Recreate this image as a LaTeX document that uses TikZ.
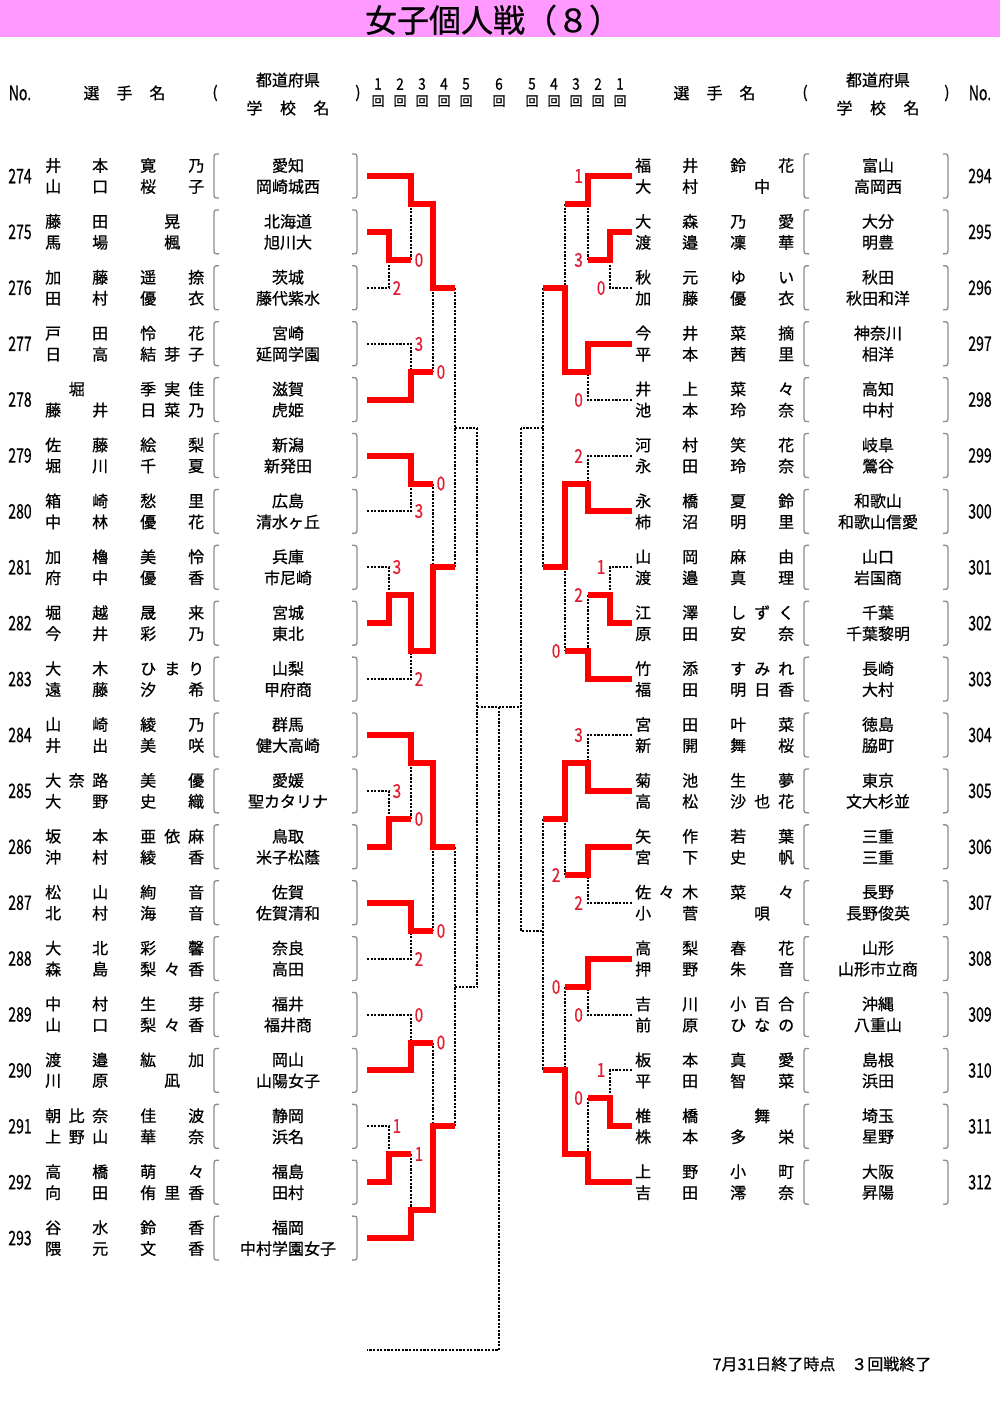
\documentclass[tikz,border=0pt]{standalone}
\usepackage{fontspec}
\setmainfont{Noto Sans CJK JP}[FakeBold=0.7]
\usepackage{graphicx}
\definecolor{titlepink}{RGB}{255,153,255}
\definecolor{scorered}{RGB}{228,28,48}
\definecolor{parengray}{RGB}{140,140,140}
\def\sprd#1{\sprdA#1\sprdEnd}
\def\sprdA#1#2\sprdEnd{#1\ifx\relax#2\relax\else\hfill\sprdA#2\sprdEnd\fi}
\newcommand\spreadbox[2]{\makebox[#1][s]{\hskip 0pt plus 1fil\sprd{#2}\hskip 0pt plus 1fil}}
\newcommand\nameline[2]{\spreadbox{63pt}{#1}\hspace{32pt}\spreadbox{64pt}{#2}}
\newcommand\cond[1]{\scalebox{0.7}[1]{#1}}
\newcommand\scr[1]{\scalebox{0.8}[1]{#1}}
\tikzset{
  txt/.style={inner sep=0pt, font=\fontsize{16}{16}\selectfont},
  numtxt/.style={inner sep=0pt, font=\fontsize{20}{20}\selectfont},
  score/.style={inner sep=0pt, text=scorered, font=\fontsize{19}{19}\selectfont},
  paren/.style={draw=parengray, line width=1.3pt},
  win/.style={draw=red, line width=6pt, line join=miter},
  lose/.style={draw=black, line width=2pt, dash pattern=on 2.2pt off 1.4pt},
}
\newcommand\Lrow[8]{%
  \pgfmathsetmacro\ry{176+55.9*#1}
  \node[numtxt] (ln#2) at (20,\ry) {\cond{#2}};
  \node[txt,anchor=west] (la#2) at (45,\ry-10.5) {\nameline{#3}{#4}};
  \node[txt,anchor=west] (lb#2) at (45,\ry+10.5) {\nameline{#5}{#6}};
  \node[txt] (lp#2) at (288,\ry-10.5) {#7};
  \node[txt] (ls#2) at (288,\ry+10.5) {#8};
  \draw[paren] (219,\ry-22) .. controls (214,\ry-22) .. (214,\ry-16) -- (214,\ry+16) .. controls (214,\ry+22) .. (219,\ry+22);
  \draw[paren] (352,\ry-22) .. controls (357,\ry-22) .. (357,\ry-16) -- (357,\ry+16) .. controls (357,\ry+22) .. (352,\ry+22);
}
\newcommand\Rrow[8]{%
  \pgfmathsetmacro\ry{176+55.9*#1}
  \node[numtxt] (rn#2) at (980,\ry) {\cond{#2}};
  \node[txt,anchor=west] (ra#2) at (635,\ry-10.5) {\nameline{#3}{#4}};
  \node[txt,anchor=west] (rb#2) at (635,\ry+10.5) {\nameline{#5}{#6}};
  \node[txt] (rp#2) at (878,\ry-10.5) {#7};
  \node[txt] (rs#2) at (878,\ry+10.5) {#8};
  \draw[paren] (809,\ry-22) .. controls (804,\ry-22) .. (804,\ry-16) -- (804,\ry+16) .. controls (804,\ry+22) .. (809,\ry+22);
  \draw[paren] (943,\ry-22) .. controls (948,\ry-22) .. (948,\ry-16) -- (948,\ry+16) .. controls (948,\ry+22) .. (943,\ry+22);
}
\begin{document}
\begin{tikzpicture}[x=1pt,y=-1pt]
\useasboundingbox (0,0) rectangle (1000,1407);
\fill[white] (0,0) rectangle (1000,1407);
\fill[titlepink] (0,0) rectangle (1000,37);
\node[inner sep=0pt, font=\fontsize{32}{32}\selectfont] (title) at (493,20) {女子個人戦（８）};

% header
\node[numtxt] (hnoL) at (20,93) {\cond{No.}};
\node[txt] (hselL) at (124.5,93) {選\hspace{17pt}手\hspace{17pt}名};
\node[txt] (hpoL) at (215,93) {(};
\node[txt] (hprefL) at (288,80) {都道府県};
\node[txt] (hschL) at (288,108) {学\hspace{17.5pt}校\hspace{17.5pt}名};
\node[txt] (hpcL) at (358,93) {)};
\node[txt] (hselR) at (714.5,93) {選\hspace{17pt}手\hspace{17pt}名};
\node[txt] (hpoR) at (805,93) {(};
\node[txt] (hprefR) at (878,80) {都道府県};
\node[txt] (hschR) at (878,108) {学\hspace{17.5pt}校\hspace{17.5pt}名};
\node[txt] (hpcR) at (947,93) {)};
\node[numtxt] (hnoR) at (980,93) {\cond{No.}};
\foreach \n/\x in {1/378,2/400,3/422,4/444,5/466,6/499,5/532,4/554,3/576,2/598,1/620}{
  \node[inner sep=0pt, font=\fontsize{16}{16}\selectfont] (hr\x) at (\x,84) {\scalebox{0.85}[1]{\n}};
  \node[inner sep=0pt, font=\fontsize{13}{13}\selectfont] (hk\x) at (\x,101) {回};
}

% left rows
\Lrow{0}{274}{井本}{寛乃}{山口}{桜子}{愛知}{岡崎城西}
\Lrow{1}{275}{藤田}{晃}{馬場}{楓}{北海道}{旭川大}
\Lrow{2}{276}{加藤}{遥捺}{田村}{優衣}{茨城}{藤代紫水}
\Lrow{3}{277}{戸田}{怜花}{日高}{結芽子}{宮崎}{延岡学園}
\Lrow{4}{278}{堀}{季実佳}{藤井}{日菜乃}{滋賀}{虎姫}
\Lrow{5}{279}{佐藤}{絵梨}{堀川}{千夏}{新潟}{新発田}
\Lrow{6}{280}{箱崎}{愁里}{中林}{優花}{広島}{清水ヶ丘}
\Lrow{7}{281}{加櫓}{美怜}{府中}{優香}{兵庫}{市尼崎}
\Lrow{8}{282}{堀越}{晟来}{今井}{彩乃}{宮城}{東北}
\Lrow{9}{283}{大木}{ひまり}{遠藤}{汐希}{山梨}{甲府商}
\Lrow{10}{284}{山崎}{綾乃}{井出}{美咲}{群馬}{健大高崎}
\Lrow{11}{285}{大奈路}{美優}{大野}{史織}{愛媛}{聖カタリナ}
\Lrow{12}{286}{坂本}{亜依麻}{沖村}{綾香}{鳥取}{米子松蔭}
\Lrow{13}{287}{松山}{絢音}{北村}{海音}{佐賀}{佐賀清和}
\Lrow{14}{288}{大北}{彩馨}{森島}{梨々香}{奈良}{高田}
\Lrow{15}{289}{中村}{生芽}{山口}{梨々香}{福井}{福井商}
\Lrow{16}{290}{渡邉}{紘加}{川原}{凪}{岡山}{山陽女子}
\Lrow{17}{291}{朝比奈}{佳波}{上野山}{華奈}{静岡}{浜名}
\Lrow{18}{292}{高橋}{萌々}{向田}{侑里香}{福島}{田村}
\Lrow{19}{293}{谷水}{鈴香}{隈元}{文香}{福岡}{中村学園女子}

% right rows
\Rrow{0}{294}{福井}{鈴花}{大村}{中}{富山}{高岡西}
\Rrow{1}{295}{大森}{乃愛}{渡邉}{凜華}{大分}{明豊}
\Rrow{2}{296}{秋元}{ゆい}{加藤}{優衣}{秋田}{秋田和洋}
\Rrow{3}{297}{今井}{菜摘}{平本}{茜里}{神奈川}{相洋}
\Rrow{4}{298}{井上}{菜々}{池本}{玲奈}{高知}{中村}
\Rrow{5}{299}{河村}{笑花}{永田}{玲奈}{岐阜}{鶯谷}
\Rrow{6}{300}{永橋}{夏鈴}{柿沼}{明里}{和歌山}{和歌山信愛}
\Rrow{7}{301}{山岡}{麻由}{渡邉}{真理}{山口}{岩国商}
\Rrow{8}{302}{江澤}{しずく}{原田}{安奈}{千葉}{千葉黎明}
\Rrow{9}{303}{竹添}{すみれ}{福田}{明日香}{長崎}{大村}
\Rrow{10}{304}{宮田}{叶菜}{新開}{舞桜}{徳島}{脇町}
\Rrow{11}{305}{菊池}{生夢}{高松}{沙也花}{東京}{文大杉並}
\Rrow{12}{306}{矢作}{若葉}{宮下}{史帆}{三重}{三重}
\Rrow{13}{307}{佐々木}{菜々}{小菅}{唄}{長野}{長野俊英}
\Rrow{14}{308}{高梨}{春花}{押野}{朱音}{山形}{山形市立商}
\Rrow{15}{309}{吉川}{小百合}{前原}{ひなの}{沖縄}{八重山}
\Rrow{16}{310}{板本}{真愛}{平田}{智菜}{島根}{浜田}
\Rrow{17}{311}{椎橋}{舞}{株本}{多栄}{埼玉}{星野}
\Rrow{18}{312}{上野}{小町}{吉田}{澪奈}{大阪}{昇陽}

% ---- left bracket: losers (dotted)
\draw[lose] (367,288)--(389,288)--(389,260);
\draw[lose] (411,204)--(411,260);
\draw[lose] (367,344)--(411,344)--(411,372);
\draw[lose] (433,288)--(433,372);
\draw[lose] (455,288)--(455,567);
\draw[lose] (455,428)--(477,428);
\draw[lose] (367,511)--(411,511)--(411,483.5);
\draw[lose] (433,483.5)--(433,567);
\draw[lose] (367,567)--(389,567)--(389,595);
\draw[lose] (367,679)--(411,679)--(411,651);
\draw[lose] (477,428)--(477,987);
\draw[lose] (477,707)--(521,707);
\draw[lose] (367,791)--(389,791)--(389,819);
\draw[lose] (411,763)--(411,819);
\draw[lose] (367,959)--(411,959)--(411,931);
\draw[lose] (433,847)--(433,931);
\draw[lose] (455,847)--(455,1126);
\draw[lose] (455,987)--(477,987);
\draw[lose] (367,1015)--(411,1015)--(411,1042.5);
\draw[lose] (433,1042.5)--(433,1126);
\draw[lose] (367,1126)--(389,1126)--(389,1154);
\draw[lose] (411,1154)--(411,1210);
\draw[lose] (499,707)--(499,1350)--(367,1350);
% ---- right bracket: losers (dotted)
\draw[lose] (632,288)--(610,288)--(610,260);
\draw[lose] (588,204)--(588,260);
\draw[lose] (632,400)--(588,400)--(588,372);
\draw[lose] (565,204)--(565,288);
\draw[lose] (543,288)--(543,567);
\draw[lose] (543,428)--(521,428);
\draw[lose] (632,456)--(588,456)--(588,483.5);
\draw[lose] (632,567)--(610,567)--(610,595);
\draw[lose] (588,595)--(588,651);
\draw[lose] (565,567)--(565,651);
\draw[lose] (521,428)--(521,931)--(543,931);
\draw[lose] (632,735)--(588,735)--(588,763);
\draw[lose] (632,903)--(588,903)--(588,875);
\draw[lose] (565,819)--(565,875);
\draw[lose] (543,819)--(543,1070);
\draw[lose] (632,1015)--(588,1015)--(588,987);
\draw[lose] (565,987)--(565,1070);
\draw[lose] (632,1070)--(610,1070)--(610,1098);
\draw[lose] (588,1098)--(588,1154);

% ---- left bracket: winners (red)
\draw[win] (367,176)--(411,176)--(411,204)--(433,204)--(433,288)--(455,288);
\draw[win] (367,232)--(389,232)--(389,260)--(411,260);
\draw[win] (367,400)--(411,400)--(411,372)--(433,372);
\draw[win] (367,456)--(411,456)--(411,483.5)--(433,483.5);
\draw[win] (367,623)--(389,623)--(389,595)--(411,595)--(411,651)--(433,651)--(433,567)--(455,567);
\draw[win] (367,735)--(411,735)--(411,763)--(433,763)--(433,847)--(455,847);
\draw[win] (367,847)--(389,847)--(389,819)--(411,819);
\draw[win] (367,903)--(411,903)--(411,931)--(433,931);
\draw[win] (367,1070)--(411,1070)--(411,1042.5)--(433,1042.5);
\draw[win] (367,1182)--(389,1182)--(389,1154)--(411,1154);
\draw[win] (367,1238)--(411,1238)--(411,1210)--(433,1210)--(433,1126)--(455,1126);
% ---- right bracket: winners (red)
\draw[win] (632,176)--(588,176)--(588,204)--(565,204);
\draw[win] (632,232)--(610,232)--(610,260)--(588,260);
\draw[win] (632,344)--(588,344)--(588,372)--(565,372)--(565,288)--(543,288);
\draw[win] (632,511)--(588,511)--(588,483.5)--(565,483.5)--(565,567)--(543,567);
\draw[win] (632,623)--(610,623)--(610,595)--(588,595);
\draw[win] (632,679)--(588,679)--(588,651)--(565,651);
\draw[win] (632,791)--(588,791)--(588,763)--(565,763)--(565,819)--(543,819);
\draw[win] (632,847)--(588,847)--(588,875)--(565,875);
\draw[win] (632,959)--(588,959)--(588,987)--(565,987);
\draw[win] (632,1126)--(610,1126)--(610,1098)--(588,1098);
\draw[win] (632,1182)--(588,1182)--(588,1154)--(565,1154)--(565,1070)--(543,1070);

% ---- scores left
\node[score,anchor=west] (sl1) at (414.5,260) {\scr{0}};
\node[score,anchor=west] (sl2) at (392.5,288) {\scr{2}};
\node[score,anchor=west] (sl3) at (414.5,344) {\scr{3}};
\node[score,anchor=west] (sl4) at (436.5,372) {\scr{0}};
\node[score,anchor=west] (sl5) at (436.5,483.5) {\scr{0}};
\node[score,anchor=west] (sl6) at (414.5,511) {\scr{3}};
\node[score,anchor=west] (sl7) at (392.5,567) {\scr{3}};
\node[score,anchor=west] (sl8) at (414.5,679) {\scr{2}};
\node[score,anchor=west] (sl9) at (392.5,791) {\scr{3}};
\node[score,anchor=west] (sl10) at (414.5,819) {\scr{0}};
\node[score,anchor=west] (sl11) at (436.5,931) {\scr{0}};
\node[score,anchor=west] (sl12) at (414.5,959) {\scr{2}};
\node[score,anchor=west] (sl13) at (414.5,1015) {\scr{0}};
\node[score,anchor=west] (sl14) at (436.5,1042.5) {\scr{0}};
\node[score,anchor=west] (sl15) at (392.5,1126) {\scr{1}};
\node[score,anchor=west] (sl16) at (414.5,1154) {\scr{1}};
% ---- scores right
\node[score,anchor=east] (sr1) at (583,176) {\scr{1}};
\node[score,anchor=east] (sr2) at (583,260) {\scr{3}};
\node[score,anchor=east] (sr3) at (605.5,288) {\scr{0}};
\node[score,anchor=east] (sr4) at (583,400) {\scr{0}};
\node[score,anchor=east] (sr5) at (583,456) {\scr{2}};
\node[score,anchor=east] (sr6) at (605.5,567) {\scr{1}};
\node[score,anchor=east] (sr7) at (583,595) {\scr{2}};
\node[score,anchor=east] (sr8) at (560.5,651) {\scr{0}};
\node[score,anchor=east] (sr9) at (583,735) {\scr{3}};
\node[score,anchor=east] (sr10) at (560.5,875) {\scr{2}};
\node[score,anchor=east] (sr11) at (583,903) {\scr{2}};
\node[score,anchor=east] (sr12) at (560.5,987) {\scr{0}};
\node[score,anchor=east] (sr13) at (583,1015) {\scr{0}};
\node[score,anchor=east] (sr14) at (605.5,1070) {\scr{1}};
\node[score,anchor=east] (sr15) at (583,1098) {\scr{0}};

% footer
\node[txt] (foot) at (822,1364) {7月31日終了時点　３回戦終了};
\end{tikzpicture}
\end{document}
